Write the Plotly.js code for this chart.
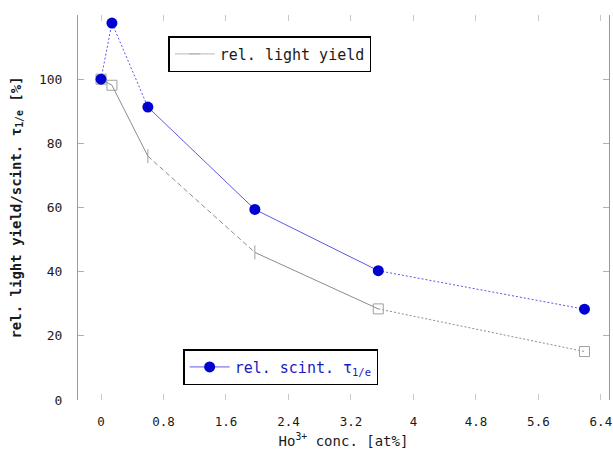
<!DOCTYPE html>
<html>
<head>
<meta charset="utf-8">
<script src="https://cdn.plot.ly/plotly-3.0.1.min.js"></script>
<style>html,body{margin:0;padding:0;background:#fff;}#plot{width:613px;height:452px;}</style>
</head>
<body>
<div id="plot"></div>
<script>
// Data
const hoConc = [0, 0.14, 0.6, 1.97, 3.55, 6.19];
const relLightYield = [100, 98.1, 76, 46, 28.4, 15.1];
const relScintTau = [100, 117.5, 91.3, 59.4, 40.3, 28.3];
const yTicks = [0, 20, 40, 60, 80, 100];
const xTicks = [0, 0.8, 1.6, 2.4, 3.2, 4, 4.8, 5.6, 6.4];
const xTickText = ['0', '0.8', '1.6', '2.4', '3.2', '4', '4.8', '5.6', '6.4'];

// segment styles (per segment between consecutive points)
const greySegDash = ['solid', 'solid', '5px,3px', 'solid', '2px,2px'];
const blueSegDash = ['2px,2px', '2px,2px', 'solid', 'solid', '2px,2px'];
const greySymbols = ['square-open', 'square-open', 'line-ns-open', 'line-ns-open', 'square-open', 'square-open'];

const BLUE = '#0000d0';
const BLUE_LINE = '#5a5ae6';
const GREY = '#8c8c8c';
const MONO = '"DejaVu Sans Mono", "Liberation Mono", monospace';

const traces = [];
for (let i = 0; i < hoConc.length - 1; i++) {
  traces.push({
    x: [hoConc[i], hoConc[i + 1]], y: [relLightYield[i], relLightYield[i + 1]],
    mode: 'lines', showlegend: false, hoverinfo: 'skip',
    line: {color: GREY, width: 1, dash: greySegDash[i]}
  });
}
for (let i = 0; i < hoConc.length - 1; i++) {
  traces.push({
    x: [hoConc[i], hoConc[i + 1]], y: [relScintTau[i], relScintTau[i + 1]],
    mode: 'lines', showlegend: false, hoverinfo: 'skip',
    line: {color: BLUE_LINE, width: 1, dash: blueSegDash[i]}
  });
}
traces.push({
  x: hoConc, y: relLightYield, mode: 'markers', showlegend: false,
  marker: {symbol: greySymbols, size: 10, color: '#a0a0a0', line: {color: '#a0a0a0', width: 1}}
});
traces.push({
  x: hoConc, y: relScintTau, mode: 'markers', showlegend: false,
  marker: {symbol: 'circle', size: 11, color: BLUE, line: {width: 0}}
});
// legend entries
traces.push({
  x: [null], y: [null], mode: 'lines+markers', name: 'rel. light yield',
  line: {color: '#b8b8b8', width: 1}, marker: {symbol: 'line-ew-open', size: 8, color: '#b0b0b0', line: {color: '#b0b0b0', width: 1}},
  legend: 'legend'
});
traces.push({
  x: [null], y: [null], mode: 'lines+markers', name: 'rel. scint. τ<sub>1/e</sub>',
  line: {color: BLUE_LINE, width: 1}, marker: {color: BLUE, size: 11},
  legend: 'legend2'
});

const layout = {
  width: 613, height: 452,
  margin: {l: 78, r: 4, t: 15, b: 52},
  paper_bgcolor: '#fff', plot_bgcolor: '#fff',
  font: {family: MONO, size: 13, color: '#222'},
  xaxis: {
    range: [-0.2945, 6.504], tickvals: xTicks, ticktext: xTickText,
    showgrid: false, zeroline: false, showline: true, linecolor: 'rgba(0,0,0,0)',
    ticks: 'inside', ticklen: 6, tickcolor: '#c8c8c8', tickwidth: 1, mirror: 'ticks',
    ticklabelstandoff: 10, ticklabeloverflow: 'allow',
    tickfont: {family: MONO, size: 12.5, color: '#1a1a1a'},
    title: {text: 'Ho<sup>3+</sup> conc. [at%]', font: {family: MONO, size: 14, color: '#1a1a1a'}, standoff: 8}
  },
  yaxis: {
    range: [0, 120], tickvals: yTicks,
    showgrid: false, zeroline: false, showline: true, linecolor: '#9a9a9a', linewidth: 1,
    ticks: 'inside', ticklen: 6, tickcolor: '#b0b0b0', tickwidth: 1, mirror: 'allticks',
    ticklabelstandoff: 12,
    tickfont: {family: MONO, size: 13, color: '#1a1a1a'},
    title: {text: '<b>rel. light yield/scint. τ<sub>1/e</sub> [%]</b>', font: {family: MONO, size: 14, color: '#1a1a1a'}, standoff: 14}
  },
  legend: {
    x: 0.17, y: 0.945, xanchor: 'left', yanchor: 'top',
    bordercolor: '#000', borderwidth: 1.5, bgcolor: '#fff',
    font: {family: MONO, size: 15, color: '#1a1a1a'},
    itemwidth: 40, tracegroupgap: 0
  },
  legend2: {
    x: 0.198, y: 0.132, xanchor: 'left', yanchor: 'top',
    bordercolor: '#000', borderwidth: 1.5, bgcolor: '#fff',
    font: {family: MONO, size: 15, color: '#1a1ac0'},
    itemwidth: 40
  },
  showlegend: true
};

Plotly.newPlot('plot', traces, layout, {staticPlot: true, displayModeBar: false});
</script>
</body>
</html>
